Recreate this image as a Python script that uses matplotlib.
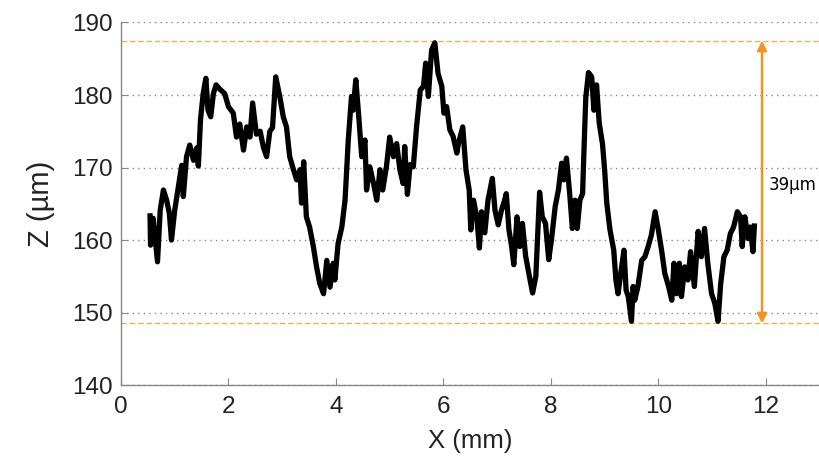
import matplotlib
matplotlib.use("Agg")
import matplotlib.pyplot as plt

# Profile data (x in mm, z in µm)
x_mm = [0.54, 0.55, 0.60, 0.68, 0.73, 0.79, 0.85, 0.90, 0.94, 1.00, 1.07, 1.13, 1.16, 1.22, 1.28,
        1.35, 1.41, 1.44, 1.48, 1.53, 1.58, 1.62, 1.67, 1.72, 1.77, 1.84, 1.93, 2.00, 2.09, 2.15,
        2.21, 2.28, 2.34, 2.40, 2.45, 2.52, 2.59, 2.65, 2.71, 2.77, 2.82, 2.88, 2.96, 3.02, 3.08,
        3.14, 3.21, 3.27, 3.33, 3.36, 3.40, 3.45, 3.51, 3.58, 3.64, 3.70, 3.77, 3.83, 3.89, 3.95,
        3.98, 4.04, 4.11, 4.17, 4.23, 4.29, 4.32, 4.37, 4.42, 4.48, 4.54, 4.57, 4.63, 4.70, 4.76,
        4.82, 4.87, 4.94, 5.00, 5.07, 5.13, 5.19, 5.25, 5.28, 5.33, 5.38, 5.44, 5.50, 5.57, 5.63,
        5.67, 5.72, 5.78, 5.84, 5.90, 5.97, 6.01, 6.06, 6.12, 6.18, 6.25, 6.28, 6.36, 6.42, 6.48,
        6.51, 6.56, 6.62, 6.67, 6.71, 6.77, 6.83, 6.91, 6.96, 7.02, 7.08, 7.14, 7.17, 7.22, 7.27,
        7.31, 7.37, 7.42, 7.47, 7.53, 7.60, 7.66, 7.72, 7.76, 7.79, 7.84, 7.90, 7.96, 8.01, 8.08,
        8.14, 8.20, 8.24, 8.29, 8.35, 8.40, 8.45, 8.49, 8.54, 8.59, 8.62, 8.65, 8.70, 8.76, 8.80,
        8.85, 8.90, 8.96, 9.00, 9.04, 9.10, 9.17, 9.21, 9.25, 9.30, 9.36, 9.40, 9.44, 9.50, 9.53,
        9.56, 9.62, 9.69, 9.75, 9.81, 9.87, 9.94, 10.00, 10.06, 10.12, 10.19, 10.25, 10.29, 10.34,
        10.39, 10.43, 10.49, 10.55, 10.60, 10.67, 10.74, 10.80, 10.86, 10.92, 10.99, 11.05, 11.11,
        11.16, 11.22, 11.28, 11.34, 11.40, 11.47, 11.53, 11.56, 11.61, 11.67, 11.71, 11.76, 11.79]
z_um = [163.7, 159.3, 163.0, 157.0, 164.1, 166.9, 165.5, 163.7, 160.0, 164.1, 167.4, 170.3, 166.0,
        171.5, 173.1, 171.0, 172.7, 170.2, 176.6, 180.2, 182.3, 177.9, 177.0, 180.2, 181.4, 180.8,
        180.2, 178.4, 177.5, 174.2, 176.0, 172.4, 175.6, 174.2, 178.9, 174.6, 175.0, 172.8, 171.5,
        175.0, 175.5, 182.5, 179.6, 177.0, 175.6, 171.5, 169.7, 168.3, 169.7, 165.1, 170.8, 163.2,
        161.8, 159.1, 156.3, 154.0, 152.6, 157.2, 153.5, 156.8, 154.5, 159.5, 161.8, 165.5, 173.8,
        179.8, 177.9, 182.1, 177.5, 171.5, 173.8, 166.9, 170.1, 167.8, 165.5, 169.7, 166.9, 170.1,
        174.2, 171.5, 173.3, 169.7, 167.8, 172.9, 166.3, 170.4, 170.1, 175.6, 180.7, 181.2, 184.4,
        179.8, 186.2, 187.2, 183.0, 181.2, 177.5, 178.4, 175.2, 174.3, 172.0, 173.3, 175.6, 169.7,
        166.9, 161.4, 165.5, 163.2, 158.9, 163.9, 161.0, 165.5, 168.5, 164.1, 162.1, 164.1, 165.5,
        166.4, 161.4, 159.1, 156.6, 163.2, 159.1, 162.3, 157.8, 155.0, 152.7, 155.0, 161.8, 166.6,
        163.2, 162.3, 157.3, 160.0, 164.6, 166.9, 170.6, 168.3, 171.3, 166.4, 161.6, 165.5, 161.6,
        165.5, 166.4, 173.3, 179.7, 183.1, 182.5, 177.9, 181.4, 176.1, 173.3, 169.7, 165.1, 161.4,
        158.6, 154.5, 152.6, 155.4, 158.6, 153.1, 152.2, 148.8, 153.6, 151.7, 153.6, 157.2, 157.7,
        159.1, 160.7, 163.9, 161.4, 158.6, 155.4, 153.6, 151.7, 156.8, 152.6, 156.8, 152.2, 156.3,
        154.5, 158.4, 153.6, 161.2, 157.7, 161.6, 156.8, 152.6, 151.3, 148.8, 154.0, 157.7, 158.6,
        160.9, 161.8, 163.9, 163.2, 159.1, 163.2, 160.2, 161.8, 158.4, 162.3]

z_max = 187.5
z_min = 148.5
arrow_x = 11.93
range_label = "39µm"
x_ticks = [0, 2, 4, 6, 8, 10, 12]
y_ticks = [140, 150, 160, 170, 180, 190]

plt.rcParams['font.family'] = ['Liberation Sans', 'DejaVu Sans']

fig = plt.figure(figsize=(8.19, 4.59), dpi=100)
ax = fig.add_axes([0.1477, 0.161, 0.853, 0.790])

ax.set_xlim(0, 13)
ax.set_ylim(140, 190)
ax.set_xticks(x_ticks)
ax.set_yticks(y_ticks)

for yv in y_ticks:
    ax.axhline(yv, color='#888888', lw=1.0, ls=(0, (1, 3)), zorder=0)

ax.axhline(z_max, color='#f5b04d', lw=1.0, ls=(0, (4, 2)), zorder=1)
ax.axhline(z_min, color='#f5b04d', lw=1.0, ls=(0, (4, 2)), zorder=1)

ax.plot(x_mm, z_um, color='black', lw=3.8, solid_joinstyle='round',
        solid_capstyle='butt', zorder=3)

ax.annotate('', xy=(arrow_x, z_max), xytext=(arrow_x, z_min),
            arrowprops=dict(arrowstyle='<|-|>', color='#f3941e', lw=1.8,
                            mutation_scale=14, shrinkA=0, shrinkB=0), zorder=4)
ax.text(arrow_x + 0.12, 167.6, range_label, fontsize=12, family='DejaVu Sans',
        va='center', ha='left', color='black')

for s in ['top', 'right']:
    ax.spines[s].set_visible(False)
for s in ['left', 'bottom']:
    ax.spines[s].set_color('#888888')
    ax.spines[s].set_linewidth(1.0)

ax.tick_params(direction='in', length=5, color='#888888', labelsize=17.5, labelcolor='#222222')
ax.tick_params(axis='y', pad=6)
ax.tick_params(axis='x', pad=8)

ax.set_xlabel('X (mm)', fontsize=18.5, color='#222222', labelpad=8)
ax.set_ylabel('Z (µm)', fontsize=21, color='#222222', labelpad=12)

fig.savefig('out.png', dpi=100)
